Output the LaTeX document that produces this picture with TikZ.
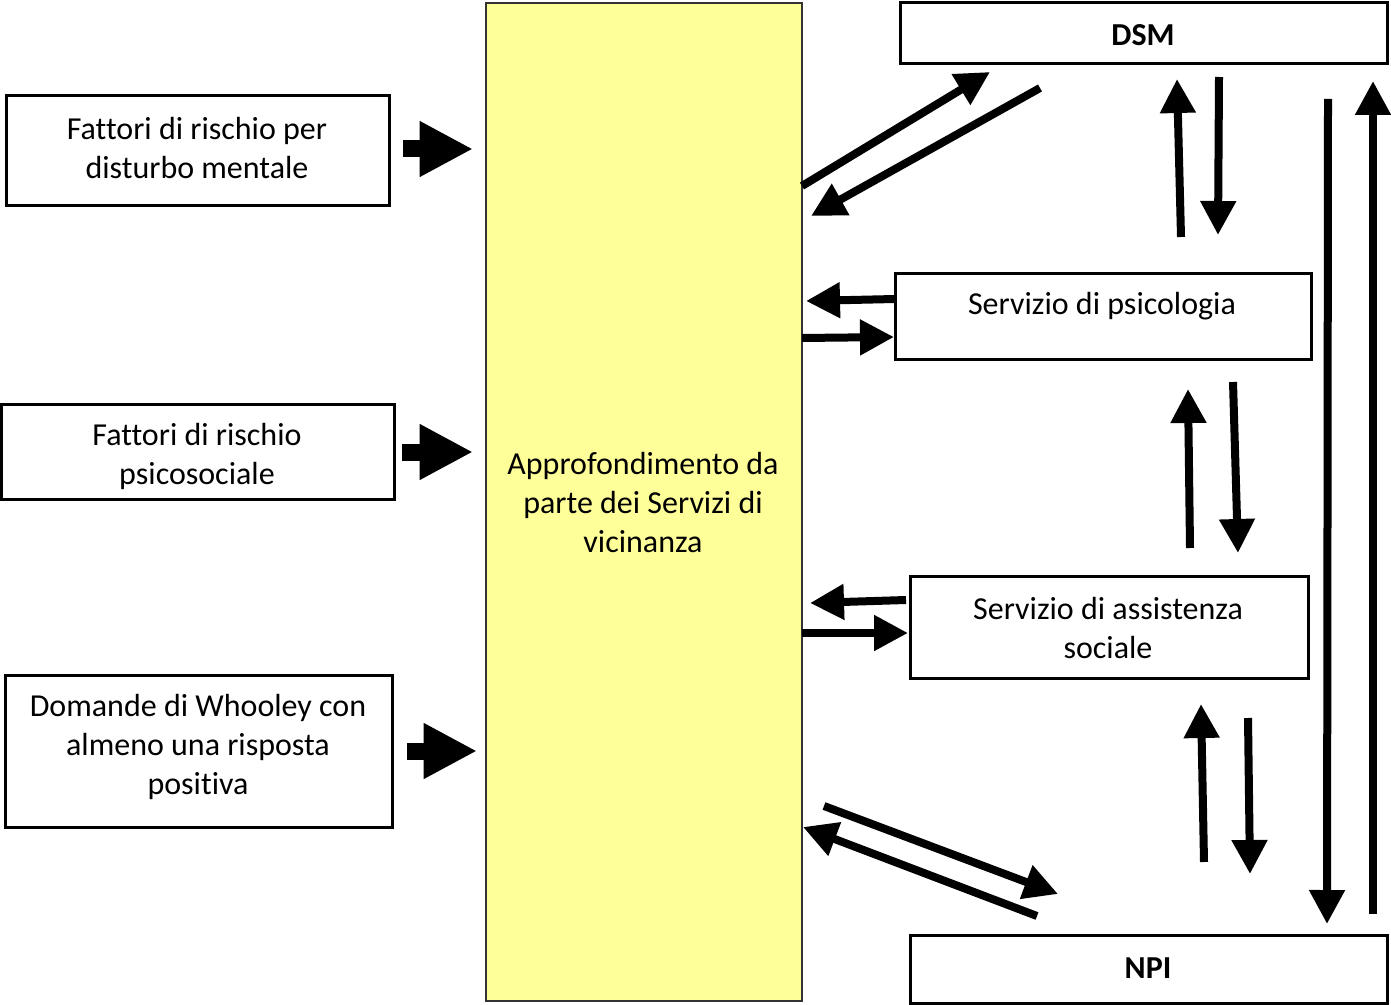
\documentclass[tikz,border=0pt]{standalone}
\usepackage{fontspec}
\setmainfont{Carlito}[Ligatures=NoCommon]
\usetikzlibrary{arrows.meta}
\begin{document}
\begin{tikzpicture}[x=0.75pt,y=-0.75pt,
  box/.style n args={2}{draw=black, line width=2.25pt, fill=white, inner sep=0pt,
    minimum width={#1*0.75pt}, minimum height={#2*0.75pt}},
  txt/.style={font=\fontsize{24}{29.25}\selectfont, align=center, inner sep=0pt},
  btxt/.style={font=\fontsize{24}{29.25}\selectfont\bfseries, align=center, inner sep=0pt},
  conn/.style={line width=6pt, -{Triangle[length=25.5pt,width=25.5pt]}},
  blk/.style={line width=12.75pt, -{Triangle[length=40pt,width=39pt]}}]
\useasboundingbox (0,0) rectangle (1391,1005);
% central box
\node[box={316}{998}, draw=black!80, line width=1.2pt, fill={rgb,255:red,255;green,255;blue,153}] (yel) at (644,502) {};
\node[txt] (yelt) at (643,503) {Approfondimento da\\parte dei Servizi di\\vicinanza};
% left boxes
\node[box={383}{110}] (b1) at (197.5,151) {};
\node[txt] (b1t) at (197,148) {Fattori di rischio per\\disturbo mentale};
\node[box={393}{95}] (b2) at (197.5,451.5) {};
\node[txt] (b2t) at (197,456) {Fattori di rischio\\psicosociale};
\node[box={387}{152}] (b3) at (198.5,751) {};
\node[txt] (b3t) at (198,747) {Domande di Whooley con\\almeno una risposta\\positiva};
% right boxes
\node[box={487}{61}] (dsm) at (1143.5,33.5) {};
\node[btxt] (dsmt) at (1143,35) {DSM};
\node[box={416}{85}] (psi) at (1103,316.5) {};
\node[txt] (psit) at (1102,306) {Servizio di psicologia};
\node[box={398}{102}] (ass) at (1109,627) {};
\node[txt] (asst) at (1108,628.5) {Servizio di assistenza\\sociale};
\node[box={477}{68}] (npi) at (1148.5,969) {};
\node[btxt] (npit) at (1148,968) {NPI};
% block arrows
\coordinate (a1s) at (403,149); \coordinate (a1e) at (473,149);
\coordinate (a2s) at (402,452); \coordinate (a2e) at (473,452);
\coordinate (a3s) at (407,751); \coordinate (a3e) at (477,751);
\draw[blk] (a1s) -- (a1e);
\draw[blk] (a2s) -- (a2e);
\draw[blk] (a3s) -- (a3e);
% yellow <-> DSM
\coordinate (d1s) at (802,186); \coordinate (d1e) at (990,72);
\coordinate (d2s) at (1040,88); \coordinate (d2e) at (811,216);
\draw[conn] (d1s) -- (d1e);
\draw[conn] (d2s) -- (d2e);
% yellow <-> psicologia
\coordinate (p1s) at (895,299); \coordinate (p1e) at (806,301);
\coordinate (p2s) at (802,338); \coordinate (p2e) at (894,337);
\draw[conn] (p1s) -- (p1e);
\draw[conn] (p2s) -- (p2e);
% yellow <-> assistenza
\coordinate (s1s) at (906,600); \coordinate (s1e) at (810,603);
\coordinate (s2s) at (802,633); \coordinate (s2e) at (908,633);
\draw[conn] (s1s) -- (s1e);
\draw[conn] (s2s) -- (s2e);
% yellow <-> NPI
\coordinate (n1s) at (824,806); \coordinate (n1e) at (1058,894);
\coordinate (n2s) at (1037,916); \coordinate (n2e) at (803,827);
\draw[conn] (n1s) -- (n1e);
\draw[conn] (n2s) -- (n2e);
% DSM <-> psicologia
\coordinate (v1s) at (1181,237); \coordinate (v1e) at (1177,79);
\coordinate (v2s) at (1219,77); \coordinate (v2e) at (1218,235);
\draw[conn] (v1s) -- (v1e);
\draw[conn] (v2s) -- (v2e);
% psicologia <-> assistenza
\coordinate (w1s) at (1190,548); \coordinate (w1e) at (1188,389);
\coordinate (w2s) at (1233,382); \coordinate (w2e) at (1238,553);
\draw[conn] (w1s) -- (w1e);
\draw[conn] (w2s) -- (w2e);
% assistenza <-> NPI
\coordinate (u1s) at (1204,862); \coordinate (u1e) at (1201,704);
\coordinate (u2s) at (1248,718); \coordinate (u2e) at (1250,874);
\draw[conn] (u1s) -- (u1e);
\draw[conn] (u2s) -- (u2e);
% DSM <-> NPI long
\coordinate (l1s) at (1328,99); \coordinate (l1e) at (1327,924);
\coordinate (l2s) at (1373,914); \coordinate (l2e) at (1373,81);
\draw[conn] (l1s) -- (l1e);
\draw[conn] (l2s) -- (l2e);
\end{tikzpicture}
\end{document}
